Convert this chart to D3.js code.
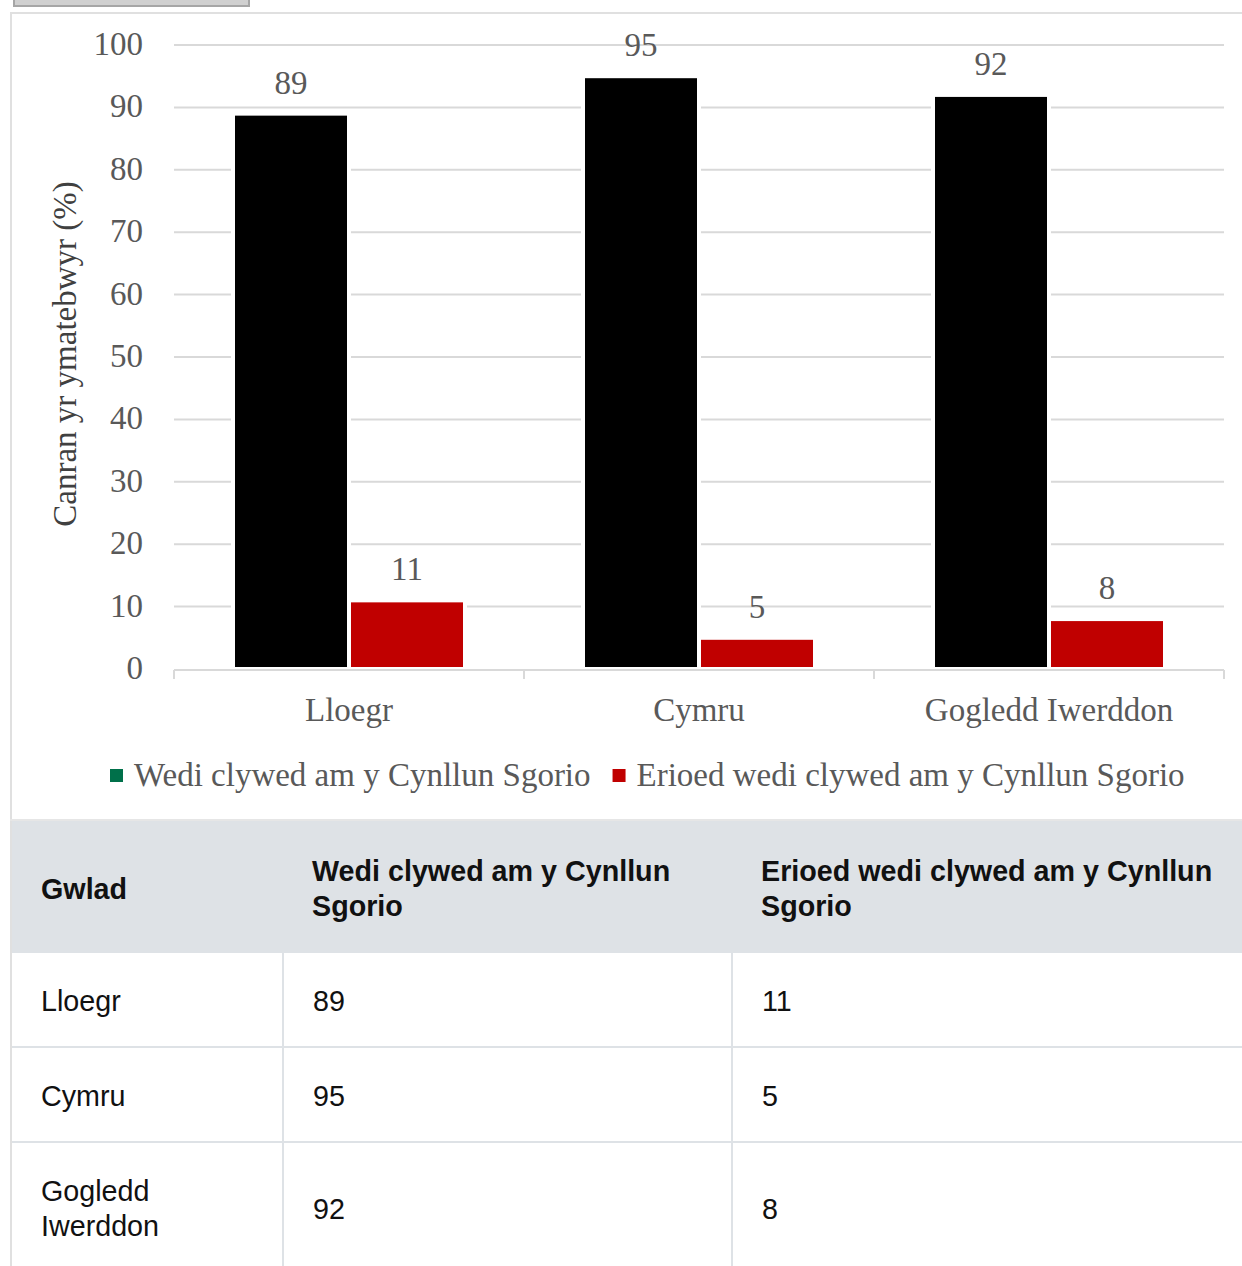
<!DOCTYPE html>
<html>
<head>
<meta charset="utf-8">
<script src="https://cdn.jsdelivr.net/npm/d3@7"></script>
<style>
  html, body { margin: 0; padding: 0; background: #fff; width: 1242px; height: 1266px; overflow: hidden; position: relative; }
  #btn { position: absolute; left: 13px; top: -30px; width: 233px; height: 33px; background: #d0d0d0; border: 2px solid #a6a6a6; }
  #leftline { position: absolute; left: 10px; top: 12px; width: 2px; height: 1300px; background: #e0e0e0; }
  svg { position: absolute; left: 0; top: 0; }
  #tbl { position: absolute; left: 12px; top: 821px; width: 1280px; border-collapse: collapse; font-family: "Liberation Sans", Arial, sans-serif; font-size: 28.7px; color: #111; table-layout: fixed; }
  #tbl th, #tbl td { text-align: left; padding: 31px 20px 27px 29px; line-height: 35px; vertical-align: middle; }
  #tbl thead th { background: #dee2e6; font-weight: bold; height: 70px; padding-top: 33px; padding-bottom: 29px; }
  #tbl tbody td { border-top: 2px solid #dee2e6; border-left: 2px solid #dee2e6; }
  #tbl tbody tr:first-child td { border-top: none; }
  #tbl tbody td:first-child { border-left: none; }
</style>
</head>
<body>
<div id="btn"></div>
<div id="leftline"></div>
<script>
const categories = ["Lloegr", "Cymru", "Gogledd Iwerddon"];
const seriesNames = ["Wedi clywed am y Cynllun Sgorio", "Erioed wedi clywed am y Cynllun Sgorio"];
const heardValues = [89, 95, 92];
const neverHeardValues = [11, 5, 8];
const yTicks = [0, 10, 20, 30, 40, 50, 60, 70, 80, 90, 100];
const yAxisTitle = "Canran yr ymatebwyr (%)";
const tableHeaders = ["Gwlad", "Wedi clywed am y Cynllun Sgorio", "Erioed wedi clywed am y Cynllun Sgorio"];

const barColors = ["#000000", "#c00000"];
const legendColors = ["#00704a", "#c00000"];
const textColor = "#595959";
const serif = "'Liberation Serif', 'Times New Roman', serif";
const fs = 33;

const svg = d3.select("body").append("svg").attr("width", 1242).attr("height", 821);

// chart box border
svg.append("line").attr("x1", 10).attr("x2", 1242).attr("y1", 13).attr("y2", 13).attr("stroke", "#e0e0e0").attr("stroke-width", 2);
svg.append("line").attr("x1", 10).attr("x2", 1242).attr("y1", 820).attr("y2", 820).attr("stroke", "#e6e6e6").attr("stroke-width", 2);

const y = d3.scaleLinear().domain([0, 100]).range([669, 45]);
const x0 = d3.scaleBand().domain(categories).range([174, 1224]).paddingInner(0).paddingOuter(0);
const bw = x0.bandwidth();
const x1 = d3.scaleBand().domain([0, 1]).range([bw / 2 - 116, bw / 2 + 116]).padding(0);

// gridlines
svg.append("g").selectAll("line").data(yTicks.filter(t => t > 0)).join("line")
  .attr("x1", 174).attr("x2", 1224)
  .attr("y1", d => y(d)).attr("y2", d => y(d))
  .attr("stroke", "#d9d9d9").attr("stroke-width", 2);

// y tick labels
svg.append("g").selectAll("text").data(yTicks).join("text")
  .attr("x", 143).attr("y", d => y(d) + 10)
  .attr("text-anchor", "end")
  .attr("font-family", serif).attr("font-size", fs).attr("fill", textColor)
  .text(d => d);

// y axis title
svg.append("text")
  .attr("transform", "translate(76,354) rotate(-90)")
  .attr("text-anchor", "middle")
  .attr("font-family", serif).attr("font-size", fs).attr("fill", "#404040")
  .text(yAxisTitle);

const data = categories.map((c, i) => ({ cat: c, vals: [heardValues[i], neverHeardValues[i]] }));

const groups = svg.append("g").selectAll("g").data(data).join("g")
  .attr("transform", d => `translate(${x0(d.cat)},0)`);

groups.selectAll("rect").data(d => d.vals.map((v, k) => ({ v, k }))).join("rect")
  .attr("x", d => x1(d.k))
  .attr("width", x1.bandwidth())
  .attr("y", d => y(d.v))
  .attr("height", d => y(0) - y(d.v))
  .attr("fill", d => barColors[d.k])
  .attr("stroke", "#fff").attr("stroke-width", 4);

groups.selectAll("text.val").data(d => d.vals.map((v, k) => ({ v, k }))).join("text")
  .attr("class", "val")
  .attr("x", d => x1(d.k) + x1.bandwidth() / 2)
  .attr("y", d => y(d.v) - 20)
  .attr("text-anchor", "middle")
  .attr("font-family", serif).attr("font-size", fs).attr("fill", textColor)
  .text(d => d.v);

// x axis
svg.append("line").attr("x1", 174).attr("x2", 1224).attr("y1", 670).attr("y2", 670)
  .attr("stroke", "#d9d9d9").attr("stroke-width", 2);
const tickXs = categories.map(c => x0(c)).concat([x0(categories[categories.length - 1]) + bw]);
svg.append("g").selectAll("line").data(tickXs).join("line")
  .attr("x1", d => d).attr("x2", d => d).attr("y1", 670).attr("y2", 679)
  .attr("stroke", "#d9d9d9").attr("stroke-width", 2);

svg.append("g").selectAll("text").data(categories).join("text")
  .attr("x", d => x0(d) + bw / 2).attr("y", 721)
  .attr("text-anchor", "middle")
  .attr("font-family", serif).attr("font-size", fs).attr("fill", textColor)
  .text(d => d);

// legend
const leg = svg.append("g");
let lx = 110;
seriesNames.forEach((name, i) => {
  leg.append("rect").attr("x", lx).attr("y", 769).attr("width", 13).attr("height", 13).attr("fill", legendColors[i]);
  const t = leg.append("text").attr("x", lx + 24).attr("y", 786)
    .attr("font-family", serif).attr("font-size", fs).attr("fill", textColor).text(name);
  lx = lx + 24 + t.node().getComputedTextLength() + 22;
});

// table
const table = d3.select("body").append("table").attr("id", "tbl");
const cg = table.append("colgroup");
[271, 449, 560].forEach(w => cg.append("col").style("width", w + "px"));
table.append("thead").append("tr").selectAll("th").data(tableHeaders).join("th").text(d => d);
const rows = categories.map((c, i) => [c, heardValues[i], neverHeardValues[i]]);
table.append("tbody").selectAll("tr").data(rows).join("tr")
  .selectAll("td").data(d => d).join("td").text(d => d);
</script>
</body>
</html>
